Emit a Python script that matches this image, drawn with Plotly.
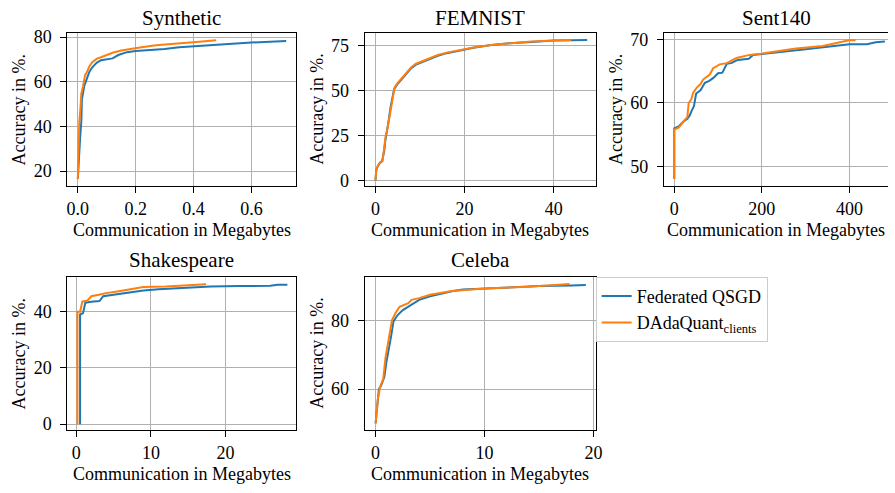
import plotly.graph_objects as go

# ---------------- data ----------------
synthetic_qsgd_mb = [0, 0.004, 0.008, 0.012, 0.014, 0.018, 0.022, 0.03, 0.04, 0.05, 0.065, 0.08, 0.1, 0.12, 0.14, 0.17, 0.2, 0.25, 0.3, 0.35, 0.42, 0.5, 0.6, 0.72]
synthetic_qsgd_acc = [16.5, 28, 35, 42, 52, 55, 58, 61, 64.5, 66.5, 68.5, 69.7, 70.2, 70.5, 72, 73.3, 73.8, 74.2, 74.7, 75.5, 76.1, 77, 77.6, 78.3]
synthetic_dada_mb = [0, 0.002, 0.005, 0.009, 0.012, 0.018, 0.025, 0.032, 0.04, 0.05, 0.066, 0.08, 0.1, 0.12, 0.15, 0.19, 0.22, 0.27, 0.32, 0.36, 0.42, 0.478]
synthetic_dada_acc = [16.5, 30, 42, 48, 54.7, 58, 63, 64.5, 67, 68.8, 70.4, 71, 72, 73, 74, 75, 75.5, 76.4, 77, 77.6, 78, 78.6]

femnist_qsgd_mb = [0, 0.2, 0.5, 1.0, 1.5, 2.0, 2.2, 2.6, 3.0, 3.4, 3.8, 4.2, 5.0, 6.0, 7.0, 8.0, 9.0, 10.5, 12.5, 14.0, 16.0, 19.0, 22.0, 26.0, 30.0, 35.0, 40.0, 44.0, 47.5]
femnist_qsgd_acc = [0, 6, 8, 10, 11, 17, 22, 27, 34, 41, 47, 51, 54, 57, 60, 62.5, 64.5, 66, 68, 69.5, 71, 72.5, 74, 75.5, 76.5, 77.2, 78, 78.2, 78.3]
femnist_dada_mb = [0, 0.2, 0.6, 1.1, 1.6, 2.0, 2.3, 2.7, 3.1, 3.5, 3.9, 4.3, 5.0, 6.0, 7.0, 8.0, 9.0, 10.5, 12.5, 14.0, 16.0, 19.0, 22.0, 26.0, 30.0, 35.0, 40.0, 43.9]
femnist_dada_acc = [0, 6.5, 8.5, 10.5, 11, 18, 25, 29, 35, 42, 48, 52, 54.5, 57.5, 60.5, 63, 65, 66.5, 68.5, 70, 71.3, 72.8, 74.2, 75.6, 76.6, 77.5, 78.1, 78.3]

sent140_qsgd_mb = [0, 0, 10, 20, 30, 35, 40, 45, 50, 60, 70, 80, 90, 100, 110, 120, 130, 145, 170, 180, 210, 240, 270, 300, 340, 370, 400, 440, 460, 481]
sent140_qsgd_acc = [48, 56, 56.3, 57, 57.5, 58, 58.8, 59.5, 61.5, 62, 63.2, 63.5, 64, 64.7, 64.8, 66.2, 66.3, 66.8, 67, 67.6, 67.8, 68, 68.3, 68.5, 68.8, 69, 69.3, 69.3, 69.6, 69.7]
sent140_dada_mb = [0, 0, 10, 20, 30, 33, 39, 43, 51, 60, 66, 81, 89, 104, 120, 142, 172, 200, 233, 278, 339, 369, 399, 414]
sent140_dada_acc = [48, 55.8, 56.1, 57, 57.8, 60, 60.6, 61.6, 62.4, 63, 63.7, 64.5, 65.5, 66.1, 66.3, 67.1, 67.6, 67.8, 68.1, 68.6, 69, 69.5, 69.9, 69.9]

shakespeare_qsgd_mb = [0.5, 0.5, 0.9, 1.2, 2.0, 3.1, 3.6, 5.0, 6.0, 8.0, 9.0, 11.0, 14.0, 18.0, 22.0, 26.0, 27.0, 28.3]
shakespeare_qsgd_acc = [0, 39, 39.5, 43.2, 43.5, 43.8, 45.5, 46, 46.5, 47, 47.5, 48, 48.5, 49, 49.1, 49.2, 49.6, 49.6]
shakespeare_dada_mb = [0.15, 0.15, 0.5, 0.8, 1.5, 2.0, 3.0, 4.0, 5.5, 7.0, 9.0, 12.0, 15.0, 17.4]
shakespeare_dada_acc = [0, 40, 40, 43.6, 44, 45.5, 46, 46.6, 47.2, 48, 48.8, 49, 49.3, 49.8]

celeba_qsgd_mb = [0, 0.2, 0.3, 0.5, 0.8, 1.0, 1.2, 1.4, 1.64, 2.0, 2.5, 3.0, 3.5, 4.0, 5.0, 6.0, 7.0, 8.0, 10.0, 12.0, 15.0, 18.0, 19.3]
celeba_qsgd_acc = [50, 58, 60, 61, 63.5, 68, 71, 75, 79.7, 81.5, 83, 84, 85, 86, 87, 87.8, 88.5, 89, 89.3, 89.6, 90, 90.2, 90.3]
celeba_dada_mb = [0, 0.2, 0.4, 0.7, 0.9, 1.2, 1.5, 1.8, 2.2, 3.0, 3.3, 4.0, 5.0, 7.0, 10.0, 14.0, 17.8]
celeba_dada_acc = [50, 57, 60.5, 63, 69, 74, 80, 82, 84, 85, 86, 86.5, 87.5, 88.6, 89.3, 89.8, 90.6]

dataset_titles = ["Synthetic", "FEMNIST", "Sent140", "Shakespeare", "Celeba"]
series_names = ["Federated QSGD", "DAdaQuant<sub>clients</sub>"]
x_label = "Communication in Megabytes"
y_label = "Accuracy in %."

# ---------------- layout ----------------
W, H = 895, 493
FONT = "Liberation Serif"
BLUE, ORANGE = "#1f77b4", "#ff7f0e"


def px_x(p):
    return p / W


def px_y(p):
    return 1 - p / H


# panel boxes in pixels: (left, right, top, bottom)
boxes = [
    (67, 298, 28, 184),
    (367, 600, 28, 184),
    (669, 895, 28, 184),
    (67, 298, 277, 434),
    (367, 600, 277, 434),
]
x_ranges = [[-0.036, 0.755], [-2.4, 49.4], [-23.3, 488], [-1.2, 29.5], [-1.0, 20.2]]
y_ranges = [[13.4, 81.7], [-2.8, 82.0], [46.9, 71.0], [-2.2, 52.4], [48.0, 92.7]]
x_dticks = [0.2, 20, 200, 10, 10]
y_dticks = [20, 25, 10, 20, 20]
x_formats = [".1f", "d", "d", "d", "d"]

panels = [
    (synthetic_qsgd_mb, synthetic_qsgd_acc, synthetic_dada_mb, synthetic_dada_acc),
    (femnist_qsgd_mb, femnist_qsgd_acc, femnist_dada_mb, femnist_dada_acc),
    (sent140_qsgd_mb, sent140_qsgd_acc, sent140_dada_mb, sent140_dada_acc),
    (shakespeare_qsgd_mb, shakespeare_qsgd_acc, shakespeare_dada_mb, shakespeare_dada_acc),
    (celeba_qsgd_mb, celeba_qsgd_acc, celeba_dada_mb, celeba_dada_acc),
]

fig = go.Figure()
axis_common = dict(
    showline=True, linecolor="black", linewidth=1.2,
    ticks="outside", ticklen=6, tickwidth=1.2, tickcolor="black",
    showgrid=True, gridcolor="#b0b0b0", gridwidth=1, zeroline=False,
    tickfont=dict(family=FONT, size=18, color="black"),
)

annotations = []
for i, (qx, qy, dx, dy) in enumerate(panels):
    n = "" if i == 0 else str(i + 1)
    fig.add_trace(go.Scatter(x=qx, y=qy, mode="lines", name=series_names[0],
                             line=dict(color=BLUE, width=2), showlegend=(i == 0),
                             xaxis="x" + n, yaxis="y" + n))
    fig.add_trace(go.Scatter(x=dx, y=dy, mode="lines", name=series_names[1],
                             line=dict(color=ORANGE, width=2), showlegend=(i == 0),
                             xaxis="x" + n, yaxis="y" + n))
    l, r, t, b = boxes[i]
    fig.layout["xaxis" + n] = dict(
        axis_common, domain=[px_x(l), px_x(r)], range=x_ranges[i],
        tick0=0, dtick=x_dticks[i], tickformat=x_formats[i],
        anchor="y" + n, mirror=True, ticklabelstandoff=0,
    )
    fig.layout["yaxis" + n] = dict(
        axis_common, domain=[px_y(b), px_y(t)], range=y_ranges[i],
        tick0=0, dtick=y_dticks[i],
        anchor="x" + n, mirror=(i != 2), ticklabelstandoff=5,
    )
    cx = (l + r) / 2
    cy = (t + b) / 2
    title_y = 12 if t < 100 else 260
    annotations.append(dict(text=dataset_titles[i], x=px_x(cx), y=px_y(title_y),
                            xref="paper", yref="paper", showarrow=False,
                            xanchor="center", yanchor="middle",
                            font=dict(family=FONT, size=21, color="black")))
    annotations.append(dict(text=x_label, x=px_x(cx), y=px_y(b + 45),
                            xref="paper", yref="paper", showarrow=False,
                            xanchor="center", yanchor="middle",
                            font=dict(family=FONT, size=18, color="black")))
    annotations.append(dict(text=y_label, x=px_x(l - 49), y=px_y(cy),
                            xref="paper", yref="paper", showarrow=False,
                            xanchor="center", yanchor="middle", textangle=-90,
                            font=dict(family=FONT, size=18, color="black")))

fig.update_layout(
    width=W, height=H, margin=dict(l=0, r=0, t=0, b=0),
    paper_bgcolor="white", plot_bgcolor="white",
    font=dict(family=FONT, size=18, color="black"),
    annotations=annotations,
    legend=dict(x=px_x(600), y=px_y(277), xanchor="left", yanchor="top",
                bgcolor="white", bordercolor="#cccccc", borderwidth=1,
                font=dict(family=FONT, size=18, color="black"),
                tracegroupgap=0, itemwidth=30),
)

fig.write_html(
    "out.html",
    config={"displayModeBar": False},
    post_script="document.body.style.margin='0';document.body.style.overflow='hidden';",
)
